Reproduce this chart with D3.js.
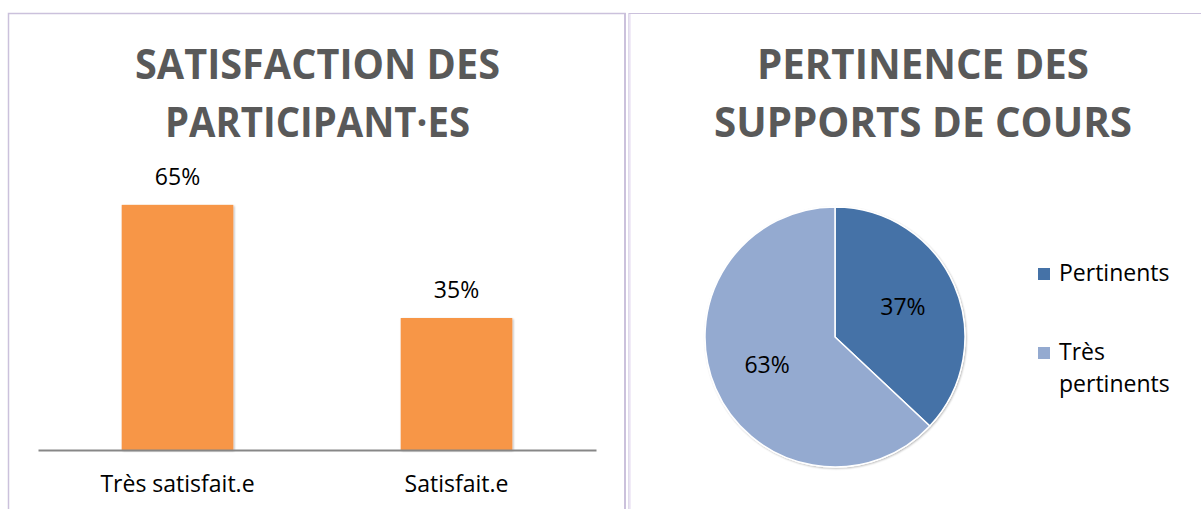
<!DOCTYPE html>
<html>
<head>
<meta charset="utf-8">
<script src="https://cdn.jsdelivr.net/npm/d3@7"></script>
<style>
  html, body { margin: 0; padding: 0; background: #fff; }
  svg { display: block; }
  text { font-family: "Open Sans", "Noto Sans", sans-serif; fill: #000; }
  .title { font-weight: bold; fill: #595959; }
</style>
</head>
<body>
<div id="chart"></div>
<script>
// ============ 数据 ============
const barCategories = ['Très satisfait.e', 'Satisfait.e'];
const barValues = [65, 35];
const barTitle = ['SATISFACTION DES', 'PARTICIPANT·ES'];

const pieCategories = ['Pertinents', 'Très pertinents'];
const pieValues = [37, 63];
const pieLegendLines = [['Pertinents'], ['Très', 'pertinents']];
const pieTitle = ['PERTINENCE DES', 'SUPPORTS DE COURS'];

const width = 1202;
const height = 509;
const labelSize = 23;

const svg = d3.select('#chart').append('svg')
  .attr('width', width)
  .attr('height', height);

const defs = svg.append('defs');
const shadow = defs.append('filter').attr('id', 'shadow')
  .attr('x', '-10%').attr('y', '-10%').attr('width', '120%').attr('height', '120%');
shadow.append('feGaussianBlur').attr('in', 'SourceAlpha').attr('stdDeviation', 1.2);
shadow.append('feOffset').attr('dx', 0.5).attr('dy', 0.5).attr('result', 'blur');
shadow.append('feComponentTransfer').append('feFuncA').attr('type', 'linear').attr('slope', 0.3);
const merge = shadow.append('feMerge');
merge.append('feMergeNode');
merge.append('feMergeNode').attr('in', 'SourceGraphic');

// ============ 面板边框 ============
const frame = svg.append('g').attr('fill', 'none');
frame.append('path')
  .attr('d', 'M8.5,509 V13.5 H625 V509')
  .attr('stroke', '#cbc1dc').attr('stroke-width', 1.5);
frame.append('line')
  .attr('x1', 625).attr('x2', 625).attr('y1', 13).attr('y2', 509)
  .attr('stroke', '#cbc1dc').attr('stroke-width', 2);
frame.append('path')
  .attr('d', 'M629,509 V13.5 H1201')
  .attr('stroke', '#cbc1dc').attr('stroke-width', 1.2);
frame.append('line')
  .attr('x1', 630).attr('x2', 630).attr('y1', 14).attr('y2', 509)
  .attr('stroke', '#ece5f4').attr('stroke-width', 1.5);

// 标题：按参考宽度拉伸
function drawTitle(lines, cx, widths) {
  const g = svg.append('g');
  lines.forEach((line, i) => {
    g.append('text')
      .attr('class', 'title')
      .attr('x', cx)
      .attr('y', 79 + i * 58)
      .attr('text-anchor', 'middle')
      .attr('font-size', 42)
      .attr('textLength', widths[i])
      .attr('lengthAdjust', 'spacingAndGlyphs')
      .text(line);
  });
}

drawTitle(barTitle, 317.5, [365, 305]);
drawTitle(pieTitle, 923, [332, 418]);

// ============ 柱状图 ============
const x = d3.scaleBand()
  .domain(barCategories)
  .range([38, 596])
  .paddingInner(0.6)
  .paddingOuter(0.3);

const y = d3.scaleLinear()
  .domain([0, 70])
  .range([450, 186]);

const barG = svg.append('g');

barG.selectAll('rect')
  .data(barValues)
  .join('rect')
  .attr('x', (d, i) => x(barCategories[i]))
  .attr('y', d => y(d))
  .attr('width', x.bandwidth())
  .attr('height', d => y(0) - y(d))
  .attr('fill', '#f79646')
  .attr('filter', 'url(#shadow)');

barG.selectAll('text.value')
  .data(barValues)
  .join('text')
  .attr('class', 'value')
  .attr('x', (d, i) => x(barCategories[i]) + x.bandwidth() / 2)
  .attr('y', d => y(d) - 20)
  .attr('text-anchor', 'middle')
  .attr('font-size', labelSize)
  .text(d => d + '%');

// x 轴
const xAxis = barG.append('g')
  .attr('transform', `translate(0,${y(0)})`)
  .call(d3.axisBottom(x).tickSize(0).tickPadding(0).tickSizeOuter(0));
xAxis.select('.domain').attr('stroke', '#878787').attr('stroke-width', 2);
xAxis.selectAll('.tick text')
  .attr('y', 42)
  .attr('dy', 0)
  .attr('font-size', labelSize)
  .attr('font-family', '"Open Sans", "Noto Sans", sans-serif')
  .attr('fill', '#000');

// ============ 饼图 ============
const pieColors = d3.scaleOrdinal()
  .domain(pieCategories)
  .range(['#4572a7', '#94aad0']);

const pie = d3.pie().sort(null).value(d => d.value);
const pieData = pie(pieCategories.map((c, i) => ({ name: c, value: pieValues[i] })));

const radius = 130;
const arc = d3.arc().innerRadius(0).outerRadius(radius);
const labelArc = d3.arc().innerRadius(74).outerRadius(74);

const pieG = svg.append('g').attr('transform', 'translate(835,337)');

pieG.append('circle')
  .attr('r', radius + 0.5)
  .attr('fill', '#fff')
  .attr('filter', 'url(#shadow)');

pieG.selectAll('path')
  .data(pieData)
  .join('path')
  .attr('d', arc)
  .attr('fill', d => pieColors(d.data.name))
  .attr('stroke', '#fff')
  .attr('stroke-width', 1.5);

pieG.selectAll('text')
  .data(pieData)
  .join('text')
  .attr('transform', d => `translate(${labelArc.centroid(d)})`)
  .attr('text-anchor', 'middle')
  .attr('dy', '0.3em')
  .attr('font-size', labelSize)
  .text(d => d.data.value + '%');

// 图例
const legend = svg.append('g').attr('transform', 'translate(1038,268)');
const legendItems = legend.selectAll('g')
  .data(pieCategories)
  .join('g')
  .attr('transform', (d, i) => `translate(0,${i * 79})`);

legendItems.append('rect')
  .attr('width', 12)
  .attr('height', 12)
  .attr('fill', d => pieColors(d));

legendItems.each(function (d, i) {
  const t = d3.select(this).append('text')
    .attr('x', 21)
    .attr('y', 13)
    .attr('font-size', labelSize);
  pieLegendLines[i].forEach((line, j) => {
    t.append('tspan')
      .attr('x', 21)
      .attr('dy', j === 0 ? 0 : 32)
      .text(line);
  });
});
</script>
</body>
</html>
